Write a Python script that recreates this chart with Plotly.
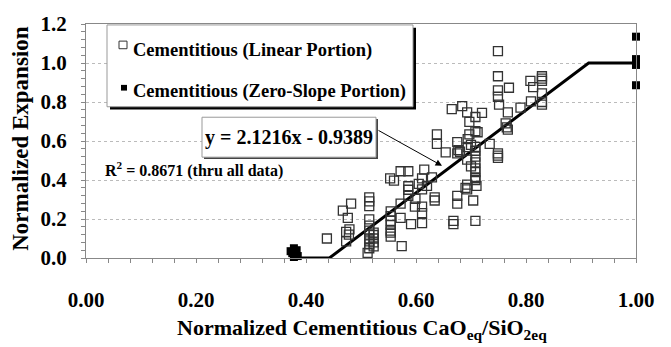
import plotly.graph_objects as go

# ---- data ----
lin_x = [0.438, 0.467, 0.476, 0.482, 0.473, 0.479, 0.473, 0.478,
         0.515, 0.515, 0.515, 0.515, 0.515, 0.515, 0.515, 0.515, 0.515, 0.515, 0.515, 0.512,
         0.523, 0.523, 0.523, 0.523, 0.523,
         0.554, 0.554, 0.554, 0.554, 0.554, 0.554, 0.554,
         0.572, 0.572, 0.574,
         0.553, 0.560, 0.572, 0.586, 0.586, 0.586, 0.586, 0.591, 0.599, 0.598,
         0.611, 0.611, 0.611, 0.611, 0.611, 0.615, 0.629, 0.634, 0.634, 0.605, 0.620,
         0.638, 0.638, 0.654, 0.665, 0.668, 0.668, 0.675, 0.675, 0.675, 0.675, 0.677, 0.680,
         0.684, 0.693, 0.697, 0.697, 0.694, 0.694, 0.693, 0.693, 0.693, 0.690, 0.704,
         0.708, 0.708, 0.708, 0.708, 0.708, 0.708, 0.708, 0.708, 0.708, 0.708, 0.708, 0.710,
         0.700, 0.700, 0.712,
         0.720, 0.734, 0.749, 0.749, 0.749, 0.749, 0.751, 0.749, 0.749, 0.749,
         0.769, 0.767, 0.763, 0.767, 0.765, 0.790, 0.808, 0.809, 0.813,
         0.829, 0.829, 0.829, 0.829, 0.829, 0.829]
lin_y = [0.100, 0.243, 0.206, 0.279, 0.134, 0.147, 0.085, 0.120,
         0.311, 0.290, 0.266, 0.198, 0.166, 0.140, 0.120, 0.100, 0.085, 0.070, 0.050, 0.026,
         0.060, 0.118, 0.130, 0.100, 0.080,
         0.239, 0.215, 0.190, 0.170, 0.140, 0.130, 0.110,
         0.279, 0.206, 0.061,
         0.408, 0.397, 0.445, 0.445, 0.368, 0.350, 0.319, 0.174, 0.303, 0.263,
         0.408, 0.352, 0.263, 0.230, 0.179, 0.453, 0.413, 0.311, 0.295, 0.380, 0.370,
         0.634, 0.585, 0.542, 0.763, 0.174, 0.190, 0.319, 0.279, 0.594, 0.537, 0.553, 0.545,
         0.779, 0.747, 0.698, 0.634, 0.610, 0.569, 0.505, 0.376, 0.352, 0.360, 0.295,
         0.190, 0.723, 0.650, 0.570, 0.550, 0.520, 0.490, 0.460, 0.440, 0.410, 0.400, 0.370,
         0.470, 0.580, 0.645,
         0.744, 0.585, 1.061, 0.932, 0.860, 0.827, 0.787, 0.537, 0.513, 0.525,
         0.873, 0.747, 0.690, 0.658, 0.670, 0.771, 0.908, 0.803, 0.876,
         0.932, 0.920, 0.908, 0.844, 0.787, 0.800]

zero_x = [0.372, 0.378, 0.380, 0.383, 0.378, 0.385, 0.375, 1.0, 1.0, 1.0, 1.0, 1.0]
zero_y = [0.035, 0.050, 0.020, 0.040, 0.005, 0.010, 0.025, 1.135, 1.020, 1.000, 0.990, 0.886]

slope, intercept = 2.1216, -0.9389
fit_x_start, fit_x_end = 0.375, 1.0
x_zero = -intercept / slope
x_one = (1 - intercept) / slope
fit_x = [fit_x_start, x_zero, x_one, fit_x_end]
fit_y = [0.0, 0.0, 1.0, 1.0]

x_ticks = [0.0, 0.2, 0.4, 0.6, 0.8, 1.0]
x_tick_text = ["0.00", "0.20", "0.40", "0.60", "0.80", "1.00"]
y_ticks = [0.0, 0.2, 0.4, 0.6, 0.8, 1.0, 1.2]
y_tick_text = ["0.0", "0.2", "0.4", "0.6", "0.8", "1.0", "1.2"]

FONT = "Liberation Serif, Times New Roman, serif"

fig = go.Figure()
fig.add_trace(go.Scatter(x=fit_x, y=fit_y, mode="lines",
                         line=dict(color="black", width=3), showlegend=False, hoverinfo="skip",
                         cliponaxis=False))
fig.add_trace(go.Scatter(x=lin_x, y=lin_y, mode="markers",
                         marker=dict(symbol="square-open", size=9, color="#333333",
                                     line=dict(width=1.3, color="#333333")),
                         showlegend=False))
fig.add_trace(go.Scatter(x=zero_x, y=zero_y, mode="markers",
                         marker=dict(symbol="square", size=8, color="black"),
                         showlegend=False, cliponaxis=False))

def px2x(p):
    return (p - 86) / 550.0

def py2y(p):
    return (258 - p) / 205.0

shapes = []
# legend box shadow + box
shapes.append(dict(type="rect", xref="x", yref="y", x0=px2x(110), x1=px2x(416), y0=py2y(102), y1=py2y(16),
                   fillcolor="black", line=dict(width=0), layer="above"))
shapes.append(dict(type="rect", xref="x", yref="y", x0=px2x(107), x1=px2x(413), y0=py2y(99), y1=py2y(13),
                   fillcolor="white", line=dict(width=1, color="#999999"), layer="above"))
# legend symbols
shapes.append(dict(type="rect", xref="x", yref="y", x0=px2x(119), x1=px2x(127), y0=py2y(38), y1=py2y(30),
                   fillcolor="white", line=dict(width=1, color="#333333"), layer="above"))
shapes.append(dict(type="rect", xref="x", yref="y", x0=px2x(121), x1=px2x(127), y0=py2y(82), y1=py2y(76),
                   fillcolor="black", line=dict(width=0), layer="above"))
# equation box shadow + box
shapes.append(dict(type="rect", xref="x", yref="y", x0=px2x(204), x1=px2x(378), y0=py2y(154), y1=py2y(112),
                   fillcolor="#444444", line=dict(width=0), layer="above"))
shapes.append(dict(type="rect", xref="x", yref="y", x0=px2x(202), x1=px2x(376), y0=py2y(152), y1=py2y(110),
                   fillcolor="white", line=dict(width=1, color="#999999"), layer="above"))

annotations = [
    dict(x=px2x(131), y=py2y(40), xref="x", yref="y", xanchor="left", yanchor="middle", showarrow=False,
         text="Cementitious (Linear Portion)", font=dict(family=FONT, size=18.5, color="black", weight="bold")),
    dict(x=px2x(131), y=py2y(83), xref="x", yref="y", xanchor="left", yanchor="middle", showarrow=False,
         text="Cementitious (Zero-Slope Portion)", font=dict(family=FONT, size=18.5, color="black", weight="bold")),
    dict(x=px2x(289), y=py2y(131), xref="x", yref="y", xanchor="center", yanchor="middle", showarrow=False,
         text="y = 2.1216x - 0.9389", font=dict(family=FONT, size=20, color="black", weight="bold")),
    dict(x=px2x(442), y=py2y(161), ax=px2x(377), ay=py2y(123), xref="x", yref="y", axref="x", ayref="y",
         showarrow=True, arrowhead=2, arrowsize=1.3, arrowwidth=1, arrowcolor="black", text=""),
    dict(x=px2x(103), y=py2y(165), xref="x", yref="y", xanchor="left", yanchor="middle", showarrow=False,
         text="R<sup>2</sup> = 0.8671 (thru all data)", font=dict(family=FONT, size=16, color="black", weight="bold")),
    dict(x=0.502, y=-0.305, xref="paper", yref="paper", xanchor="center", yanchor="middle", showarrow=False,
         text="Normalized Cementitious CaO<sub>eq</sub>/SiO<sub>2eq</sub>",
         font=dict(family=FONT, size=22, color="black", weight="bold")),
    dict(x=-0.118, y=0.51, xref="paper", yref="paper", xanchor="center", yanchor="middle", showarrow=False,
         textangle=-90, text="Normalized Expansion",
         font=dict(family=FONT, size=23, color="black", weight="bold")),
]

fig.update_layout(
    width=671, height=347,
    margin=dict(l=86, r=35, t=12, b=89),
    paper_bgcolor="white", plot_bgcolor="white",
    showlegend=False,
    shapes=shapes, annotations=annotations,
    xaxis=dict(range=[0, 1.0], tickvals=x_ticks, ticktext=x_tick_text,
               showgrid=False, zeroline=False, showline=True, linecolor="#888888", linewidth=1,
               mirror=True, ticks="outside", ticklen=4, tickcolor="#888888",
               minor=dict(dtick=0.04, ticks="outside", ticklen=4, tickcolor="#888888", showgrid=False),
               ticklabelstandoff=19, ticklabeloverflow="allow",
               tickfont=dict(family=FONT, size=21, color="black", weight="bold")),
    yaxis=dict(range=[0, 1.2], tickvals=y_ticks, ticktext=y_tick_text,
               showgrid=True, gridcolor="#bbbbbb", griddash="dot", gridwidth=1,
               zeroline=False, showline=True, linecolor="#888888", linewidth=1, mirror=True,
               ticks="outside", ticklen=4, tickcolor="#888888",
               minor=dict(dtick=0.04, ticks="outside", ticklen=4, tickcolor="#888888", showgrid=False),
               ticklabelstandoff=10, ticklabeloverflow="allow",
               tickfont=dict(family=FONT, size=21, color="black", weight="bold")),
)

fig.write_html("out.html")
